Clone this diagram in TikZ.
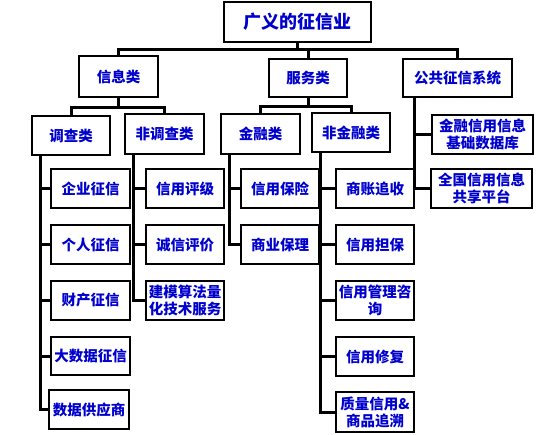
\documentclass[tikz,border=0pt]{standalone}
\usepackage{fontspec}
\newfontfamily\cjk{Noto Sans CJK SC}
\definecolor{txtblue}{RGB}{0,0,205}
\begin{document}
\begin{tikzpicture}[x=1pt,y=-1pt,
  box/.style={draw=black,line width=1.2pt,rectangle,inner sep=0pt,align=center,
    text=txtblue,font=\cjk\bfseries\fontsize{14.5}{17}\selectfont},
  conn/.style={draw=black,line width=3pt}]
\useasboundingbox (0,0) rectangle (553,434);
% level 0
\node[box,minimum width=147pt,minimum height=40pt,font=\cjk\bfseries\fontsize{18}{20}\selectfont] (top) at (297.5,22) {广义的征信业};
% level 1
\node[box,minimum width=79pt,minimum height=41pt] (info) at (118.5,76.5) {信息类};
\node[box,minimum width=78pt,minimum height=38pt] (serv) at (308,78) {服务类};
\node[box,minimum width=109pt,minimum height=38pt] (pub) at (457.5,78) {公共征信系统};
% level 2
\node[box,minimum width=78pt,minimum height=39pt] (survey) at (71,135.5) {调查类};
\node[box,minimum width=79pt,minimum height=40pt] (nonsurvey) at (164.5,134) {非调查类};
\node[box,minimum width=79pt,minimum height=40pt] (fin) at (260.5,134) {金融类};
\node[box,minimum width=78pt,minimum height=39pt] (nonfin) at (351,132.5) {非金融类};
\node[box,minimum width=101pt,minimum height=39pt] (db) at (482.5,134.5) {金融信用信息\\基础数据库};
% leaves column 1
\node[box,minimum width=79pt,minimum height=39pt] (c1a) at (90.5,188.5) {企业征信};
\node[box,minimum width=79pt,minimum height=39pt] (c1b) at (90.5,244.5) {个人征信};
\node[box,minimum width=79pt,minimum height=39pt] (c1c) at (90.5,300.5) {财产征信};
\node[box,minimum width=79pt,minimum height=38pt] (c1d) at (90.5,356) {大数据征信};
\node[box,minimum width=80pt,minimum height=39pt] (c1e) at (89,409.5) {数据供应商};
% column 2
\node[box,minimum width=78pt,minimum height=39pt] (c2a) at (185,188.5) {信用评级};
\node[box,minimum width=78pt,minimum height=39pt] (c2b) at (185,244.5) {诚信评价};
\node[box,minimum width=78pt,minimum height=39pt] (c2c) at (185,300.5) {建模算法量\\化技术服务};
% column 3
\node[box,minimum width=78pt,minimum height=39pt] (c3a) at (280,188.5) {信用保险};
\node[box,minimum width=78pt,minimum height=39pt] (c3b) at (280,244.5) {商业保理};
% column 4
\node[box,minimum width=78pt,minimum height=39pt] (c4a) at (375,188.5) {商账追收};
\node[box,minimum width=78pt,minimum height=39pt] (c4b) at (375,244.5) {信用担保};
\node[box,minimum width=78pt,minimum height=39pt] (c4c) at (375,300.5) {信用管理咨\\询};
\node[box,minimum width=78pt,minimum height=39pt] (c4d) at (375,356.5) {信用修复};
\node[box,minimum width=78pt,minimum height=40pt] (c4e) at (375,412) {质量信用\&\\商品追溯};
% column 5
\node[box,minimum width=101pt,minimum height=39pt] (nat) at (481.5,188.5) {全国信用信息\\共享平台};
% junction coordinates
\coordinate (h1) at (297.5,49.5);
\coordinate (h2) at (118.5,107);
\coordinate (h3) at (308,106);
\coordinate (s1) at (40,155);
\coordinate (s2) at (133,154);
\coordinate (s3) at (229,154);
\coordinate (s4) at (320,152);
\coordinate (s5) at (414,97);
% level 0 -> 1
\draw[conn] (top.south) -- (h1);
\draw[conn] (info.north) -- (info.north |- h1) -- (pub.north |- h1) -- (pub.north);
\draw[conn] (serv.north |- h1) -- (serv.north);
% info -> 2
\draw[conn] (info.south) -- (h2);
\draw[conn] (survey.north) -- (survey.north |- h2) -- (nonsurvey.north |- h2) -- (nonsurvey.north);
% service -> 2
\draw[conn] (serv.south) -- (h3);
\draw[conn] (fin.north) -- (fin.north |- h3) -- (nonfin.north |- h3) -- (nonfin.north);
% column 1
\draw[conn] (s1) -- (s1 |- c1e.west) -- (c1e.west);
\draw[conn] (s1 |- c1a.west) -- (c1a.west);
\draw[conn] (s1 |- c1b.west) -- (c1b.west);
\draw[conn] (s1 |- c1c.west) -- (c1c.west);
\draw[conn] (s1 |- c1d.west) -- (c1d.west);
% column 2
\draw[conn] (s2) -- (s2 |- c2c.west) -- (c2c.west);
\draw[conn] (s2 |- c2a.west) -- (c2a.west);
\draw[conn] (s2 |- c2b.west) -- (c2b.west);
% column 3
\draw[conn] (s3) -- (s3 |- c3b.west) -- (c3b.west);
\draw[conn] (s3 |- c3a.west) -- (c3a.west);
% column 4
\draw[conn] (s4) -- (s4 |- c4e.west) -- (c4e.west);
\draw[conn] (s4 |- c4a.west) -- (c4a.west);
\draw[conn] (s4 |- c4b.west) -- (c4b.west);
\draw[conn] (s4 |- c4c.west) -- (c4c.west);
\draw[conn] (s4 |- c4d.west) -- (c4d.west);
% column 5
\draw[conn] (s5) -- (s5 |- nat.west) -- (nat.west);
\draw[conn] (s5 |- db.west) -- (db.west);
\end{tikzpicture}
\end{document}
